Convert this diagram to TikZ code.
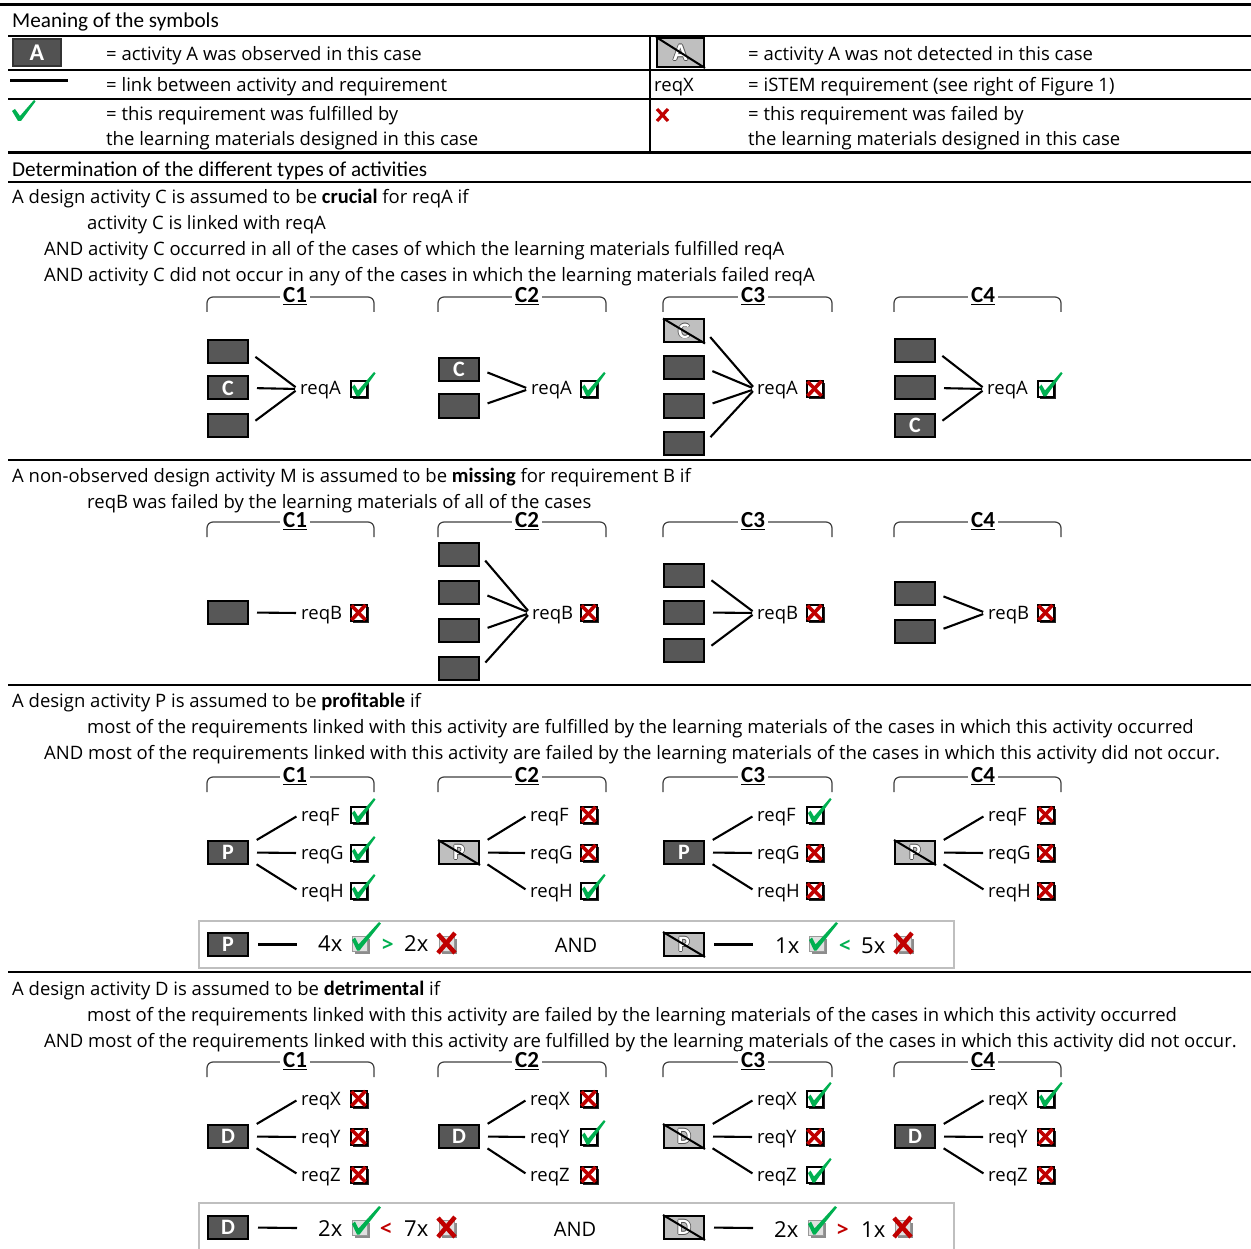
\documentclass[tikz,border=0pt]{standalone}
\usepackage{fontspec}
\setmainfont{Open Sans}
\newfontfamily\hdrfont{Carlito}
\usetikzlibrary{calc}
\definecolor{boxgray}{HTML}{575757}
\definecolor{lightbox}{HTML}{BFBFBF}
\definecolor{olgray}{HTML}{505050}
\definecolor{chkgreen}{HTML}{00B050}
\definecolor{xred}{HTML}{C00000}
\definecolor{brkgray}{HTML}{404040}
\definecolor{sumgray}{HTML}{BFBFBF}
\newcommand{\bodyfont}{\fontsize{18.5}{22}\selectfont}
\newcommand{\bw}[1]{{\hdrfont\bfseries\fontsize{20.5}{22}\selectfont #1}}
\newcommand{\olt}[1]{\leavevmode
 \rlap{\kern-0.8pt\textcolor{olgray}{#1}}%
 \rlap{\kern0.8pt\textcolor{olgray}{#1}}%
 \rlap{\raisebox{0.8pt}{\textcolor{olgray}{#1}}}%
 \rlap{\raisebox{-0.8pt}{\textcolor{olgray}{#1}}}%
 \textcolor{white}{#1}}
\tikzset{
 txt/.style={anchor=base west, inner sep=0pt, font=\bodyfont},
 hdr/.style={anchor=base west, inner sep=0pt, font=\hdrfont\fontsize{21.2}{22}\selectfont},
 abox/.style={draw=black, line width=2pt, fill=boxgray, minimum width=40pt, minimum height=23pt, inner sep=0pt, text=white, font=\hdrfont\bfseries\fontsize{22}{22}\selectfont},
 nbox/.style={abox, fill=lightbox},
 req/.style={anchor=west, font=\bodyfont, inner xsep=2pt, inner ysep=0pt, text height=12pt, text depth=0pt},
 link/.style={line width=2.1pt, shorten <=8pt, shorten >=3pt},
 thinrule/.style={line width=1.4pt},
 thickrule/.style={line width=3pt},
 brk/.style={draw=brkgray, line width=1.2pt, rounded corners=6pt},
 clab/.style={fill=white, inner xsep=3pt, inner ysep=1pt, font=\hdrfont\bfseries\fontsize{23}{23}\selectfont},
 sumt/.style={anchor=base west, inner sep=0pt, font=\fontsize{22}{22}\selectfont},
 okm/.pic={
  \fill[black!85] (-6,-6) rectangle (10,10);
  \filldraw[fill=white,draw=black,line width=1.3pt] (-8,-8) rectangle (8,8);
  \fill[chkgreen] (-7,-2) -- (-4.5,-4.5) -- (-1,1.5) -- (15,-17) -- (16.5,-15.5) -- (0,7.5) -- (-2.5,7.5) -- cycle;
 },
 kom/.pic={
  \fill[black!85] (-6,-6) rectangle (10,10);
  \filldraw[fill=white,draw=black,line width=1.3pt] (-8,-8) rectangle (8,8);
  \draw[xred, line width=3.6pt] (-7.5,-7.5) -- (6.5,7);
  \draw[xred, line width=3.6pt] (6.5,-8) -- (-7.5,7);
 },
 oks/.pic={
  \fill[black!45] (-5.5,-5.5) rectangle (9.5,9.5);
  \filldraw[fill=black!12,draw=black!40,line width=1.2pt] (-7.5,-7.5) rectangle (7.5,7.5);
  \fill[chkgreen] (-8,-4) -- (-5,-6.5) -- (-1.5,0.5) -- (19,-22) -- (21,-20.5) -- (-0.5,6.5) -- (-3,6.5) -- cycle;
 },
 kos/.pic={
  \fill[black!45] (-5.5,-5.5) rectangle (9.5,9.5);
  \filldraw[fill=black!12,draw=black!40,line width=1.2pt] (-7.5,-7.5) rectangle (7.5,7.5);
  \draw[xred, line width=4.5pt] (-9,-10) -- (8,9);
  \draw[xred, line width=4.5pt] (8,-11) -- (-9,9);
 },
 lchk/.pic={
  \fill[chkgreen] (-11,-2) -- (-8,-4) -- (-3,3) -- (11,-13) -- (12.5,-11.5) -- (-2,8) -- (-5,8) -- cycle;
 },
 lx/.pic={
  \draw[xred, line width=3.2pt] (-6,-6) -- (5,6);
  \draw[xred, line width=3.2pt] (5,-6) -- (-6,6);
 },
}
\newcommand{\ab}[4]{\node[abox] (#1) at (#2,#3) {#4};}
\newcommand{\nb}[4]{\node[nbox] (#1) at (#2,#3) {\olt{#4}};
 \draw[line width=2pt] (#1.north west) -- (#1.south east);}
\newcommand{\reqn}[4]{\node[req] (#1) at (#2,#3) {#4};}
\newcommand{\lk}[2]{\draw[link] (#1.east) -- (#2.west);}
\newcommand{\bracket}[6]{% name, x1, x2, y, labelx, label
 \draw[brk] (#2,#4+15) -- (#2,#4) -- (#3,#4) -- (#3,#4+15);
 \node[clab] (#1) at (#5,#4-1) {\underline{#6}};}
\newcommand{\brackets}[2]{% prefix, y
 \bracket{#1l1}{207}{374}{#2}{295}{C1}
 \bracket{#1l2}{438}{606}{#2}{527}{C2}
 \bracket{#1l3}{663}{832}{#2}{753}{C3}
 \bracket{#1l4}{894}{1061}{#2}{983}{C4}}
\begin{document}
\begin{tikzpicture}[x=1pt,y=-1pt]
\useasboundingbox[fill=white] (0,0) rectangle (1251,1249);
% ---------- legend ----------
\draw[thickrule] (0,5) -- (1251,5);
\node[hdr] (hleg) at (12,28) {Meaning of the symbols};
\draw[thinrule] (8,36) -- (1251,36);
\draw[thinrule] (8,70) -- (1251,70);
\draw[thinrule] (8,99) -- (1251,99);
\draw[thickrule] (8,152.5) -- (1251,152.5);
\draw[thinrule] (650,36) -- (650,152);
\node[abox, minimum width=48pt, minimum height=27pt, fill=black!68, draw=black!80, font=\hdrfont\bfseries\fontsize{24}{24}\selectfont] (legA) at (37,52.5) {A};
\node[txt] (l1) at (106,61) {= activity A was observed in this case};
\node[nbox, minimum width=47pt, minimum height=29pt, font=\hdrfont\bfseries\fontsize{24}{24}\selectfont] (legNA) at (680.5,52.5) {\olt{A}};
\draw[line width=2pt] (legNA.north west) -- (legNA.south east);
\node[txt] (r1) at (748,61) {= activity A was not detected in this case};
\draw[line width=3pt] (10,81) -- (68,81);
\node[txt] (l2) at (106,92) {= link between activity and requirement};
\node[txt] (r2a) at (654,92) {reqX};
\node[txt] (r2) at (748,92) {= iSTEM requirement (see right of Figure 1)};
\pic at (23,113) {lchk};
\node[txt] (l3a) at (106,121) {= this requirement was fulfilled by};
\node[txt] (l3b) at (106,146) {the learning materials designed in this case};
\pic at (663,115) {lx};
\node[txt] (r3a) at (748,121) {= this requirement was failed by};
\node[txt] (r3b) at (748,146) {the learning materials designed in this case};
% ---------- section header ----------
\node[hdr] (hdet) at (12,177) {Determination of the different types of activities};
\draw[thinrule] (8,182) -- (1251,182);
% ---------- crucial ----------
\node[txt] (t1a) at (12,204) {A design activity C is assumed to be \bw{crucial} for reqA if};
\node[txt] (t1b) at (87,230) {activity C is linked with reqA};
\node[txt] (t1c) at (44,256) {AND activity C occurred in all of the cases of which the learning materials fulfilled reqA};
\node[txt] (t1d) at (44,282) {AND activity C did not occur in any of the cases in which the learning materials failed reqA};
\brackets{s1}{297}
% C1
\ab{s1a1}{228}{352}{}
\ab{s1a2}{228}{388}{C}
\ab{s1a3}{228}{425.5}{}
\reqn{s1r1}{298}{389}{reqA}
\lk{s1a1}{s1r1}\lk{s1a2}{s1r1}\lk{s1a3}{s1r1}
\pic at (359,389) {okm};
% C2
\ab{s1b1}{459}{369.5}{C}
\ab{s1b2}{459}{406}{}
\reqn{s1r2}{529}{389}{reqA}
\lk{s1b1}{s1r2}\lk{s1b2}{s1r2}
\pic at (589,389) {okm};
% C3
\nb{s1c1}{684}{331}{C}
\ab{s1c2}{684}{368}{}
\ab{s1c3}{684}{406}{}
\ab{s1c4}{684}{443}{}
\reqn{s1r3}{755}{389}{reqA}
\lk{s1c1}{s1r3}\lk{s1c2}{s1r3}\lk{s1c3}{s1r3}\lk{s1c4}{s1r3}
\pic at (815,389) {kom};
% C4
\ab{s1d1}{915}{351}{}
\ab{s1d2}{915}{388}{}
\ab{s1d3}{915}{425.5}{C}
\reqn{s1r4}{985}{389}{reqA}
\lk{s1d1}{s1r4}\lk{s1d2}{s1r4}\lk{s1d3}{s1r4}
\pic at (1046,389) {okm};
\draw[thinrule] (8,460) -- (1251,460);
% ---------- missing ----------
\node[txt] (t2a) at (12,482) {A non-observed design activity M is assumed to be \bw{missing} for requirement B if};
\node[txt] (t2b) at (87,508) {reqB was failed by the learning materials of all of the cases};
\brackets{s2}{522}
\ab{s2a1}{228}{612.5}{}
\reqn{s2r1}{299}{613}{reqB}
\lk{s2a1}{s2r1}
\pic at (359,613) {kom};
\ab{s2b1}{459}{554.5}{}
\ab{s2b2}{459}{592.5}{}
\ab{s2b3}{459}{630.5}{}
\ab{s2b4}{459}{668.5}{}
\reqn{s2r2}{530}{613}{reqB}
\lk{s2b1}{s2r2}\lk{s2b2}{s2r2}\lk{s2b3}{s2r2}\lk{s2b4}{s2r2}
\pic at (589,613) {kom};
\ab{s2c1}{684}{575.5}{}
\ab{s2c2}{684}{612.5}{}
\ab{s2c3}{684}{650.5}{}
\reqn{s2r3}{755}{613}{reqB}
\lk{s2c1}{s2r3}\lk{s2c2}{s2r3}\lk{s2c3}{s2r3}
\pic at (815,613) {kom};
\ab{s2d1}{915}{593.5}{}
\ab{s2d2}{915}{631.5}{}
\reqn{s2r4}{986}{613}{reqB}
\lk{s2d1}{s2r4}\lk{s2d2}{s2r4}
\pic at (1046,613) {kom};
\draw[line width=2pt] (8,685) -- (1251,685);
% ---------- profitable ----------
\node[txt] (t3a) at (12,707) {A design activity P is assumed to be \bw{profitable} if};
\node[txt] (t3b) at (87,733) {most of the requirements linked with this activity are fulfilled by the learning materials of the cases in which this activity occurred};
\node[txt] (t3c) at (44,759) {AND most of the requirements linked with this activity are failed by the learning materials of the cases in which this activity did not occur.};
\brackets{s3}{777}
\foreach \k/\rx in {1/299, 2/528, 3/755, 4/986}{
  \reqn{s3f\k}{\rx}{815}{reqF}
  \reqn{s3g\k}{\rx}{853}{reqG}
  \reqn{s3h\k}{\rx}{891}{reqH}
}
\ab{s3p1}{228}{852.5}{P}
\nb{s3p2}{459}{852.5}{P}
\ab{s3p3}{684}{852.5}{P}
\nb{s3p4}{915}{852.5}{P}
\foreach \k in {1,2,3,4}{
  \draw[link, shorten <=9pt] ($(s3p\k.east)+(0,-8)$) -- (s3f\k.west);
  \draw[link] (s3p\k.east) -- (s3g\k.west);
  \draw[link, shorten <=9pt] ($(s3p\k.east)+(0,7)$) -- (s3h\k.west);
}
\pic at (359,815) {okm}; \pic at (359,853) {okm}; \pic at (359,891) {okm};
\pic at (589,815) {kom}; \pic at (589,853) {kom}; \pic at (589,891) {okm};
\pic at (815,815) {okm}; \pic at (815,853) {kom}; \pic at (815,891) {kom};
\pic at (1046,815) {kom}; \pic at (1046,853) {kom}; \pic at (1046,891) {kom};
% summary
\draw[draw=sumgray, line width=1.5pt] (199,921) rectangle (954,968);
\ab{s3sp}{228}{944.5}{P}
\coordinate (s3spe) at (297,944.5);
\draw[link, shorten >=0pt, shorten <=9pt] (s3sp.east) -- (s3spe);
\node[sumt] (s3n1) at (318,951.5) {4x};
\pic at (360,944) {oks};
\node[sumt, text=chkgreen, font=\bfseries\fontsize{20}{20}\selectfont] (s3gt) at (382,951.5) {>};
\node[sumt] (s3n2) at (404,951.5) {2x};
\pic at (447,944) {kos};
\node[sumt, anchor=base, font=\fontsize{20}{20}\selectfont] (s3and) at (576,952) {AND};
\nb{s3np}{684}{944.5}{P}
\coordinate (s3npe) at (753,944.5);
\draw[link, shorten >=0pt, shorten <=9pt] (s3np.east) -- (s3npe);
\node[sumt] (s3n3) at (775,953) {1x};
\pic at (817,944) {oks};
\node[sumt, text=chkgreen, font=\bfseries\fontsize{20}{20}\selectfont] (s3lt) at (839,952) {<};
\node[sumt] (s3n4) at (861,953) {5x};
\pic at (904,944) {kos};
\draw[thinrule] (8,972) -- (1251,972);
% ---------- detrimental ----------
\node[txt] (t4a) at (12,995) {A design activity D is assumed to be \bw{detrimental} if};
\node[txt] (t4b) at (87,1021) {most of the requirements linked with this activity are failed by the learning materials of the cases in which this activity occurred};
\node[txt] (t4c) at (44,1047) {AND most of the requirements linked with this activity are fulfilled by the learning materials of the cases in which this activity did not occur.};
\brackets{s4}{1062}
\foreach \k/\rx in {1/299, 2/528, 3/755, 4/986}{
  \reqn{s4x\k}{\rx}{1099}{reqX}
  \reqn{s4y\k}{\rx}{1137}{reqY}
  \reqn{s4z\k}{\rx}{1175}{reqZ}
}
\ab{s4p1}{228}{1136.5}{D}
\ab{s4p2}{459}{1136.5}{D}
\nb{s4p3}{684}{1136.5}{D}
\ab{s4p4}{915}{1136.5}{D}
\foreach \k in {1,2,3,4}{
  \draw[link, shorten <=9pt] ($(s4p\k.east)+(0,-8)$) -- (s4x\k.west);
  \draw[link] (s4p\k.east) -- (s4y\k.west);
  \draw[link, shorten <=9pt] ($(s4p\k.east)+(0,7)$) -- (s4z\k.west);
}
\pic at (359,1099) {kom}; \pic at (359,1137) {kom}; \pic at (359,1175) {kom};
\pic at (589,1099) {kom}; \pic at (589,1137) {okm}; \pic at (589,1175) {kom};
\pic at (815,1099) {okm}; \pic at (815,1137) {kom}; \pic at (815,1175) {okm};
\pic at (1046,1099) {okm}; \pic at (1046,1137) {kom}; \pic at (1046,1175) {kom};
% summary
\draw[draw=sumgray, line width=1.5pt] (199,1252) -- (199,1203) -- (954,1203) -- (954,1252);
\ab{s4sp}{228}{1227.5}{D}
\coordinate (s4spe) at (297,1228);
\draw[link, shorten >=0pt, shorten <=9pt] (s4sp.east) -- (s4spe);
\node[sumt] (s4n1) at (318,1236) {2x};
\pic at (360,1228) {oks};
\node[sumt, text=xred, font=\bfseries\fontsize{20}{20}\selectfont] (s4lt) at (380,1235) {<};
\node[sumt] (s4n2) at (404,1236) {7x};
\pic at (447,1228) {kos};
\node[sumt, anchor=base, font=\fontsize{20}{20}\selectfont] (s4and) at (575,1236) {AND};
\nb{s4np}{684}{1227.5}{D}
\coordinate (s4npe) at (753,1228);
\draw[link, shorten >=0pt, shorten <=9pt] (s4np.east) -- (s4npe);
\node[sumt] (s4n3) at (774,1237) {2x};
\pic at (816,1228) {oks};
\node[sumt, text=xred, font=\bfseries\fontsize{20}{20}\selectfont] (s4gt) at (837,1236) {>};
\node[sumt] (s4n4) at (861,1237) {1x};
\pic at (903,1228) {kos};
\end{tikzpicture}
\end{document}
